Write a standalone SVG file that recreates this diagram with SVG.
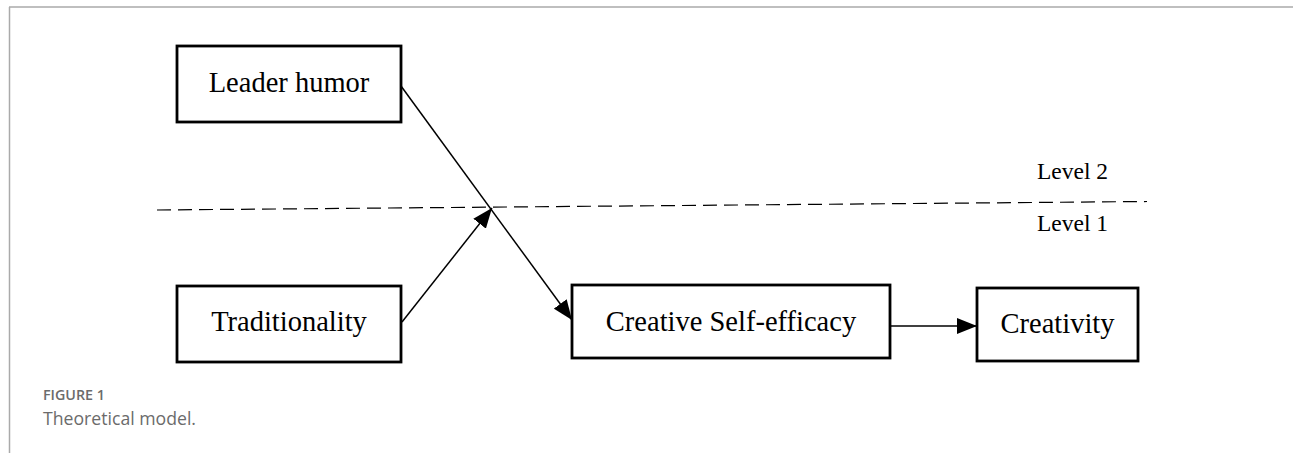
<svg xmlns="http://www.w3.org/2000/svg" width="1293" height="453" viewBox="0 0 1293 453">
<style>
.box{fill:#fff;stroke:#000;stroke-width:2.8}
.lbl{font-family:"Liberation Serif","Times New Roman",serif;font-size:28.5px;fill:#000;text-anchor:middle}
.lvl{font-family:"Liberation Serif","Times New Roman",serif;font-size:23.5px;fill:#000}
.edge{stroke:#000;stroke-width:1.5;fill:none}
.cap1{font-family:"Open Sans","Noto Sans",sans-serif;font-size:14.5px;font-weight:600;fill:#6b6b6b}
.cap2{font-family:"Open Sans","Noto Sans",sans-serif;font-size:17.5px;fill:#6b6b6b}
</style>
<defs>
<marker id="ah" markerWidth="20" markerHeight="16" refX="20" refY="8" orient="auto" markerUnits="userSpaceOnUse">
<path d="M0,0 L20,8 L0,16 Z" fill="#000"/>
</marker>
</defs>
<rect width="1293" height="453" fill="#fff"/>
<g id="frame">
<line x1="9" y1="7" x2="1293" y2="7" stroke="#aaa" stroke-width="1.5"/>
<line x1="9.5" y1="7" x2="9.5" y2="453" stroke="#aaa" stroke-width="1.5"/>
</g>
<g id="levels">
<line x1="157" y1="210" x2="1147" y2="201.5" stroke="#000" stroke-width="1.2" stroke-dasharray="14,7"/>
<text class="lvl" x="1037" y="179">Level 2</text>
<text class="lvl" x="1037" y="231">Level 1</text>
</g>
<g id="connectors">
<line class="edge" x1="401" y1="86" x2="572" y2="320" marker-end="url(#ah)"/>
<line class="edge" x1="402" y1="322" x2="492" y2="208" marker-end="url(#ah)"/>
<line class="edge" x1="890" y1="326" x2="977" y2="326" marker-end="url(#ah)"/>
</g>
<g id="leader-humor">
<rect class="box" x="177" y="46" width="224" height="76"/>
<text class="lbl" x="289" y="92">Leader humor</text>
</g>
<g id="traditionality">
<rect class="box" x="177" y="286" width="224" height="76"/>
<text class="lbl" x="289" y="331">Traditionality</text>
</g>
<g id="creative-self-efficacy">
<rect class="box" x="572" y="285" width="318" height="73"/>
<text class="lbl" x="731" y="331">Creative Self-efficacy</text>
</g>
<g id="creativity">
<rect class="box" x="977" y="288" width="161" height="73"/>
<text class="lbl" x="1057.5" y="333">Creativity</text>
</g>
<g id="caption">
<text class="cap1" x="43" y="400" textLength="62" lengthAdjust="spacingAndGlyphs">FIGURE 1</text>
<text class="cap2" x="43" y="425" textLength="153" lengthAdjust="spacingAndGlyphs">Theoretical model.</text>
</g>
</svg>
